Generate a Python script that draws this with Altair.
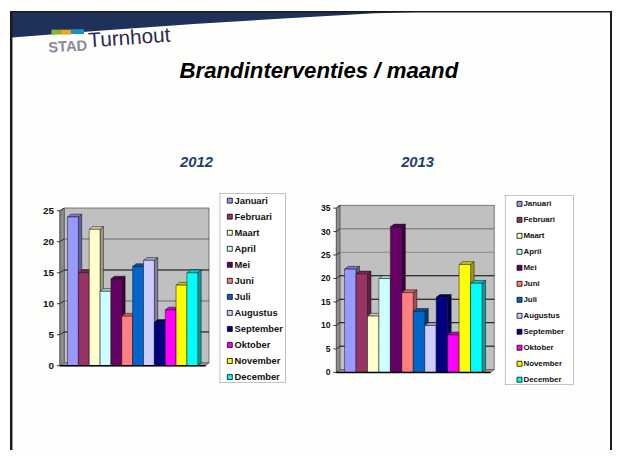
import altair as alt
import pandas as pd

months = ["Januari", "Februari", "Maart", "April", "Mei", "Juni", "Juli", "Augustus",
          "September", "Oktober", "November", "December"]
values_2012 = [24, 15, 22, 12, 14, 8, 16, 17, 7, 9, 13, 15]
values_2013 = [22, 21, 12, 20, 31, 17, 13, 10, 16, 8, 23, 19]
front_colors = ["#9999FF", "#993366", "#FFFFCC", "#CCFFFF", "#660066", "#FF8080",
                "#0066CC", "#CCCCFF", "#000080", "#FF00FF", "#FFFF00", "#00FFFF"]
FONT = "Liberation Sans"
W, H = 613, 445


def shade(hex_color, f):
    r, g, b = (int(hex_color[i:i + 2], 16) for i in (1, 3, 5))
    return "#%02x%02x%02x" % (round(r * f), round(g * f), round(b * f))


# ---- slide furniture, in picture coordinates
fx = alt.Scale(domain=[8, 8 + W], range=[0, W])
fy = alt.Scale(domain=[8, 8 + H], range=[0, H])
BOTTOM = 8 + H


def rects(rows, **mark):
    df = pd.DataFrame(rows, columns=["a", "b", "c", "d", "f"])
    return alt.Chart(df).mark_rect(**mark).encode(
        x=alt.X("a:Q", scale=fx, axis=None), x2="b:Q",
        y=alt.Y("c:Q", scale=fy, axis=None), y2="d:Q",
        fill=alt.Fill("f:N", scale=None, legend=None))


def label(text, x, y, size, color, font=FONT, weight="bold", style="normal", angle=0):
    df = pd.DataFrame({"x": [x], "y": [y], "t": [text]})
    kw = {"angle": angle} if angle else {}
    return alt.Chart(df).mark_text(font=font, fontSize=size, fontWeight=weight, fontStyle=style,
                                   color=color, align="center", baseline="middle", **kw).encode(
        x=alt.X("x:Q", scale=fx, axis=None), y=alt.Y("y:Q", scale=fy, axis=None), text="t:N")


swoosh = pd.DataFrame({"x": [12, 100, 200, 300, 380, 440],
                       "y": [8, 8, 8, 8, 8, 8],
                       "y2": [35, 28, 21, 15, 10.5, 8.5]})
swoosh_layer = alt.Chart(swoosh).mark_area(color="#1F3158", orient="vertical").encode(
    x=alt.X("x:Q", scale=fx, axis=None), y=alt.Y("y:Q", scale=fy, axis=None), y2="y2:Q")

frame = alt.layer(
    rects([[10, 620, 8, BOTTOM, "#FEFEFC"]]),
    swoosh_layer,
    rects([[10, 12.5, 8, BOTTOM, "#1A1A1A"], [618, 620, 8, BOTTOM, "#1A1A1A"], [10, 620, 8, 9.5, "#1A1A1A"],
           [52, 61, 27, 32, "#8CB33A"], [61, 72, 27, 32, "#E9A820"], [72, 85, 26.5, 31.5, "#1A94C4"]]),
    label("STAD", 68.5, 44, 15, "#8A8A9E", angle=357),
    label("Turnhout", 131, 36, 21, "#2B2A55", weight="normal", angle=356),
    label("Brandinterventies / maand", 323, 69, 22.5, "#000000", style="italic"),
    label("2012", 199, 161, 15, "#1F3F77", style="italic"),
    label("2013", 423, 161, 15, "#1F3F77", style="italic"),
    rects([[222.5, 289.5, 192.5, 385, "#888888"], [223, 289, 193, 384.5, "#FFFFFF"],
           [511.5, 581, 194.5, 387, "#888888"], [512, 580.5, 195, 386.5, "#FFFFFF"]]),
)


def bars(values, vmax, step, bar_x0, bar_x1, y0, ytop, axis_x, wall_x0, wall_x1, dpx, dpy,
         grid_colors, grid_widths, legend_x, legend_y, legend_font, row_pad, axis_font):
    uw = (bar_x1 - bar_x0) / 12
    uv = (y0 - ytop) / vmax
    dx, dv = dpx / uw, dpy / uv
    xs = alt.Scale(domain=[0, 12], range=[bar_x0 - 8, bar_x1 - 8])
    ys = alt.Scale(domain=[0, vmax], range=[y0 - 8, ytop - 8])
    ua = (axis_x - bar_x0) / uw            # front left corner
    ul = (wall_x0 - bar_x0) / uw           # back wall left
    ur = (wall_x1 - bar_x0) / uw           # back wall right
    ticks = list(range(0, vmax + 1, step))

    X = lambda f: alt.X(f, scale=xs, axis=None)
    Y = lambda f: alt.Y(f, scale=ys, axis=None)

    wall = alt.Chart(pd.DataFrame({"a": [ul], "b": [ur], "c": [dv], "d": [vmax + dv]})).mark_rect(
        fill="#C0C0C0", stroke="#333333", strokeWidth=0.6).encode(x=X("a:Q"), x2="b:Q", y=Y("c:Q"), y2="d:Q")
    side_wall = alt.Chart(pd.DataFrame({"x": [ua, ul], "lo": [0, dv], "hi": [vmax, vmax + dv]})).mark_area(
        orient="vertical", fill="#8C8C8C", stroke="#444444", strokeWidth=0.5).encode(
        x=X("x:Q"), y=Y("lo:Q"), y2="hi:Q")
    floor = alt.Chart(pd.DataFrame({"y": [0, dv], "a": [ua, ul], "b": [ur - dx, ur]})).mark_area(
        orient="horizontal", fill="#9A9A9A", stroke="#444444", strokeWidth=0.5).encode(
        y=Y("y:Q"), x=X("a:Q"), x2="b:Q")

    gdf = pd.DataFrame({"v": ticks[1:], "c": grid_colors, "w": grid_widths})
    gdf["top"] = gdf["v"] + dv
    gdf["a"], gdf["b"], gdf["s"] = ul, ur, ua
    grid = alt.Chart(gdf).mark_rule().encode(
        x=X("a:Q"), x2="b:Q", y=Y("top:Q"),
        stroke=alt.Stroke("c:N", scale=None, legend=None),
        strokeWidth=alt.StrokeWidth("w:Q", scale=None, legend=None))
    grid_side = alt.Chart(gdf).mark_rule(stroke="#111111", strokeWidth=0.8).encode(
        x=X("s:Q"), x2="a:Q", y=Y("v:Q"), y2="top:Q")

    front = pd.DataFrame({"m": months, "v": values})
    front["i"] = range(12)
    front["j"] = front["i"] + 1
    front["z"] = 0

    side_rows, top_rows = [], []
    for i, (m, v, c) in enumerate(zip(months, values, front_colors)):
        side_rows += [dict(m=m, x=i + 1, lo=0, hi=v, f=shade(c, 0.62)),
                      dict(m=m, x=i + 1 + dx, lo=dv, hi=v + dv, f=shade(c, 0.62))]
        top_rows += [dict(m=m, y=v, a=i, b=i + 1, f=shade(c, 0.8)),
                     dict(m=m, y=v + dv, a=i + dx, b=i + 1 + dx, f=shade(c, 0.8))]
    sides = alt.Chart(pd.DataFrame(side_rows)).mark_area(
        orient="vertical", stroke="#111111", strokeWidth=0.5).encode(
        x=X("x:Q"), y=Y("lo:Q"), y2="hi:Q",
        fill=alt.Fill("f:N", scale=None, legend=None), detail="m:N")
    tops = alt.Chart(pd.DataFrame(top_rows)).mark_area(
        orient="horizontal", stroke="#111111", strokeWidth=0.5).encode(
        y=Y("y:Q"), x=X("a:Q"), x2="b:Q",
        fill=alt.Fill("f:N", scale=None, legend=None), detail="m:N")
    fronts = alt.Chart(front).mark_bar(stroke="#111111", strokeWidth=0.5).encode(
        x=X("i:Q"), x2="j:Q", y=Y("z:Q"), y2="v:Q",
        color=alt.Color("m:N", scale=alt.Scale(domain=months, range=front_colors),
                        sort=months,
                        legend=alt.Legend(title=None, orient="none", legendX=legend_x - 8, legendY=legend_y - 8,
                                          symbolType="square", symbolSize=25, symbolStrokeColor="#000000",
                                          symbolStrokeWidth=0.8, labelFont=FONT, labelFontWeight="bold",
                                          labelFontSize=legend_font, labelColor="#111111", rowPadding=row_pad,
                                          labelOffset=0, padding=0, values=months)))

    base = alt.Chart(pd.DataFrame({"a": [ua], "b": [ur - dx], "z": [0]})).mark_rule(
        stroke="#000000", strokeWidth=1.6).encode(x=X("a:Q"), x2="b:Q", y=Y("z:Q"))

    tdf = pd.DataFrame({"v": ticks, "t": [str(t) for t in ticks]})
    tdf["s"], tdf["e"] = ua, ua - 3 / uw
    tick_marks = alt.Chart(tdf).mark_rule(stroke="#111111", strokeWidth=0.8).encode(
        x=X("e:Q"), x2="s:Q", y=Y("v:Q"))
    tick_labels = alt.Chart(tdf).mark_text(font=FONT, fontWeight="bold", fontSize=axis_font, color="#111111",
                                           align="right", baseline="middle", dx=-3).encode(
        x=X("e:Q"), y=Y("v:Q"), text="t:N")
    spine = alt.Chart(pd.DataFrame({"s": [ua], "lo": [0], "hi": [vmax]})).mark_rule(
        stroke="#555555", strokeWidth=0.8).encode(x=X("s:Q"), y=Y("lo:Q"), y2="hi:Q")

    return alt.layer(wall, side_wall, floor, grid, grid_side, spine, sides, tops, fronts, base,
                     tick_marks, tick_labels)


left = bars(values_2012, 25, 5, 68.3, 200.3, 367.5, 210.5, 60.5, 65, 211.7, 3.4, 2.8,
            ["#000000", "#555555", "#000000", "#555555", "#C0C0C0"], [1, 0.8, 1.2, 0.8, 0],
            228, 195.5, 9.5, 5.25, 10)
right = bars(values_2013, 35, 5, 349, 488.3, 374.3, 207.8, 340.7, 344.3, 500.7, 3.6, 2.8,
             ["#000000", "#000000", "#000000", "#000000", "#888888", "#888888", "#C0C0C0"],
             [1, 1, 1, 1, 1, 1.6, 0],
             522.3, 199.5, 8, 6.2, 8.7)

chart = alt.layer(frame, left, right).resolve_scale(
    x="independent", y="independent", color="independent"
).properties(
    width=W, height=H, padding=0, background="white",
    autosize=alt.AutoSizeParams(type="none"),
).configure_view(stroke=None)

chart.save("out.html", embed_options={"renderer": "svg", "actions": False})
